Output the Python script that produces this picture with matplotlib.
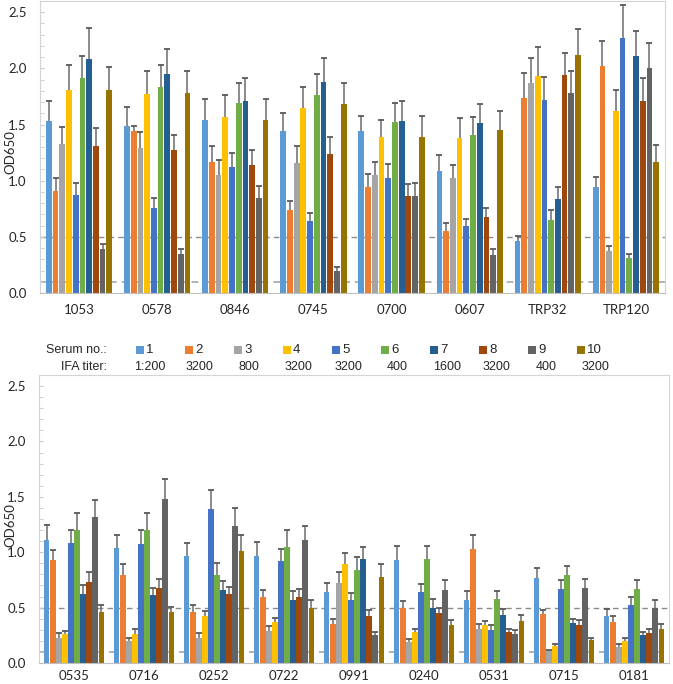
import numpy as np
import matplotlib
matplotlib.use('Agg')
import matplotlib.pyplot as plt
from matplotlib.patches import Rectangle

# serum numbers, IFA titers and colours of the 10 series
serum_no = ['1', '2', '3', '4', '5', '6', '7', '8', '9', '10']
ifa_titer = ['1:200', '3200', '800', '3200', '3200', '400', '1600', '3200', '400', '3200']
colors = ['#5B9BD5', '#ED7D31', '#A5A5A5', '#FFC000', '#4472C4',
          '#70AD47', '#255E91', '#9E480E', '#636363', '#997300']

# upper panel
top_categories = ['1053', '0578', '0846', '0745', '0700', '0607', 'TRP32', 'TRP120']
top_means = [
    [1.53, 1.49, 1.54, 1.44, 1.44, 1.09, 0.46, 0.94],
    [0.91, 1.44, 1.17, 0.74, 0.94, 0.55, 1.74, 2.02],
    [1.33, 1.29, 1.05, 1.16, 1.05, 1.02, 1.87, 0.37],
    [1.81, 1.77, 1.57, 1.65, 1.39, 1.38, 1.93, 1.62],
    [0.87, 0.76, 1.12, 0.64, 1.02, 0.60, 1.72, 2.27],
    [1.91, 1.83, 1.69, 1.76, 1.52, 1.41, 0.65, 0.31],
    [2.08, 1.95, 1.71, 1.88, 1.53, 1.51, 0.84, 2.11],
    [1.31, 1.27, 1.14, 1.24, 0.86, 0.68, 1.94, 1.71],
    [0.39, 0.35, 0.85, 0.20, 0.86, 0.34, 1.78, 2.00],
    [1.81, 1.78, 1.54, 1.68, 1.39, 1.45, 2.12, 1.17],
]
top_sd = [
    [0.18, 0.17, 0.19, 0.16, 0.14, 0.14, 0.05, 0.09],
    [0.11, 0.05, 0.14, 0.08, 0.12, 0.07, 0.22, 0.22],
    [0.15, 0.14, 0.13, 0.15, 0.12, 0.12, 0.22, 0.05],
    [0.22, 0.21, 0.19, 0.18, 0.15, 0.18, 0.26, 0.19],
    [0.11, 0.09, 0.13, 0.07, 0.13, 0.06, 0.20, 0.29],
    [0.20, 0.20, 0.18, 0.19, 0.17, 0.16, 0.09, 0.04],
    [0.28, 0.22, 0.20, 0.21, 0.18, 0.17, 0.10, 0.22],
    [0.16, 0.14, 0.13, 0.15, 0.11, 0.08, 0.20, 0.20],
    [0.05, 0.04, 0.10, 0.03, 0.12, 0.05, 0.20, 0.23],
    [0.20, 0.20, 0.19, 0.19, 0.19, 0.17, 0.23, 0.15],
]

# lower panel
bottom_categories = ['0535', '0716', '0252', '0722', '0991', '0240', '0531', '0715', '0181']
bottom_means = [
    [1.11, 1.04, 0.97, 0.97, 0.64, 0.93, 0.57, 0.77, 0.42],
    [0.93, 0.79, 0.46, 0.60, 0.35, 0.50, 1.03, 0.44, 0.37],
    [0.23, 0.20, 0.23, 0.29, 0.72, 0.19, 0.31, 0.11, 0.14],
    [0.26, 0.26, 0.42, 0.37, 0.89, 0.28, 0.34, 0.15, 0.20],
    [1.08, 1.07, 1.39, 0.92, 0.57, 0.64, 0.30, 0.67, 0.52],
    [1.20, 1.20, 0.79, 1.05, 0.84, 0.94, 0.58, 0.79, 0.67],
    [0.62, 0.61, 0.66, 0.57, 0.94, 0.50, 0.43, 0.36, 0.25],
    [0.73, 0.68, 0.62, 0.60, 0.42, 0.45, 0.28, 0.34, 0.27],
    [1.32, 1.48, 1.24, 1.11, 0.25, 0.66, 0.26, 0.68, 0.50],
    [0.46, 0.46, 1.01, 0.50, 0.78, 0.34, 0.38, 0.21, 0.31],
]
bottom_sd = [
    [0.14, 0.12, 0.11, 0.12, 0.08, 0.13, 0.08, 0.09, 0.07],
    [0.09, 0.10, 0.06, 0.06, 0.05, 0.06, 0.13, 0.04, 0.05],
    [0.04, 0.03, 0.04, 0.04, 0.10, 0.03, 0.04, 0.01, 0.03],
    [0.03, 0.05, 0.05, 0.04, 0.10, 0.03, 0.04, 0.02, 0.03],
    [0.12, 0.13, 0.17, 0.11, 0.06, 0.07, 0.04, 0.08, 0.08],
    [0.15, 0.15, 0.11, 0.15, 0.12, 0.12, 0.07, 0.09, 0.08],
    [0.08, 0.07, 0.08, 0.08, 0.11, 0.08, 0.06, 0.04, 0.03],
    [0.09, 0.08, 0.07, 0.07, 0.06, 0.05, 0.03, 0.05, 0.04],
    [0.15, 0.18, 0.16, 0.13, 0.03, 0.09, 0.04, 0.08, 0.07],
    [0.06, 0.05, 0.15, 0.07, 0.11, 0.05, 0.05, 0.02, 0.04],
]

cutoffs = [0.5, 0.1]

W, H = 673, 684
FONT = 'Lato'


def plot_panel(ax, categories, means, sds, label_pad=8):
    '''Draws one grouped bar panel with upper error bars only'''
    n_series = len(means)
    x = np.arange(len(categories))
    slot = 0.86 / n_series
    for j in range(n_series):
        xs = x + (j - (n_series - 1) / 2) * slot
        m = np.array(means[j])
        s = np.array(sds[j])
        ax.bar(xs, m, width=slot * 0.86, color=colors[j], zorder=2)
        ax.vlines(xs, m, m + s, color='#6b6b6b', linewidth=1.1, zorder=3)
        ax.plot(xs, m + s, ls='none', marker='_', markersize=4.5,
                markeredgewidth=1.3, color='#595959', zorder=3)

    ax.axhline(cutoffs[0], color='#8a8a8a', linestyle=(0, (4, 3)), linewidth=1.0, zorder=1)
    ax.axhline(cutoffs[1], color='#a6a6a6', linestyle=(0, (4, 3)), linewidth=1.2, zorder=1)

    ax.set_xlim(-0.5, len(categories) - 0.5)
    ax.set_ylim(0, 2.6)
    ax.set_yticks(np.arange(0, 2.51, 0.5))
    ax.set_yticks(np.arange(0, 2.61, 0.1), minor=True)
    ax.set_yticklabels(['%.1f' % v for v in np.arange(0, 2.51, 0.5)],
                       fontsize=9.5, family=FONT, color='#262626')
    ax.set_xticks(x)
    ax.set_xticklabels(categories, fontsize=9.5, family=FONT, color='#262626')
    ax.tick_params(axis='x', length=0, pad=label_pad)
    ax.tick_params(axis='y', which='both', direction='in', length=3,
                   color='#c8c8c8', pad=9.5)
    for side in ['top', 'left', 'right']:
        ax.spines[side].set_color('#d4d4d4')
    ax.spines['bottom'].set_color('#c0c0c0')
    ax.set_ylabel('OD650', fontsize=9.5, family=FONT, color='#262626',
                  va='center', rotation=90)


fig = plt.figure(figsize=(W / 100, H / 100), dpi=100)

ax_top = fig.add_axes([40 / W, (H - 293) / H, 625 / W, 292 / H])
plot_panel(ax_top, top_categories, top_means, top_sd)
ax_top.yaxis.set_label_coords((10 - 40) / 625, 0.481)

ax_bottom = fig.add_axes([39 / W, (H - 663) / H, 630 / W, 288 / H])
plot_panel(ax_bottom, bottom_categories, bottom_means, bottom_sd, label_pad=5)
ax_bottom.yaxis.set_label_coords((10 - 39) / 630, 0.479)

# legend row: serum numbers with colour squares, titers underneath
y_serum = 1 - 350 / H
y_titer = 1 - 367 / H
fig.text(107 / W, y_serum, 'Serum no.:', ha='right', va='center',
         fontsize=9, family='Liberation Sans', color='#262626')
fig.text(107 / W, y_titer, 'IFA titer:', ha='right', va='center',
         fontsize=9, family='Liberation Sans', color='#262626')
for i, (lab, tit) in enumerate(zip(serum_no, ifa_titer)):
    cx = 140 + 49 * i
    fig.add_artist(Rectangle(((cx - 4) / W, y_serum - 4 / H), 8 / W, 8 / H,
                             transform=fig.transFigure, color=colors[i], lw=0))
    fig.text((cx + 6) / W, y_serum, lab, ha='left', va='center',
             fontsize=9.5, family='Liberation Sans', color='#262626')
    fig.text((150 + 49.5 * i) / W, y_titer, tit, ha='center', va='center',
             fontsize=9, family='Liberation Sans', color='#262626')

fig.savefig('out.png', dpi=100)
